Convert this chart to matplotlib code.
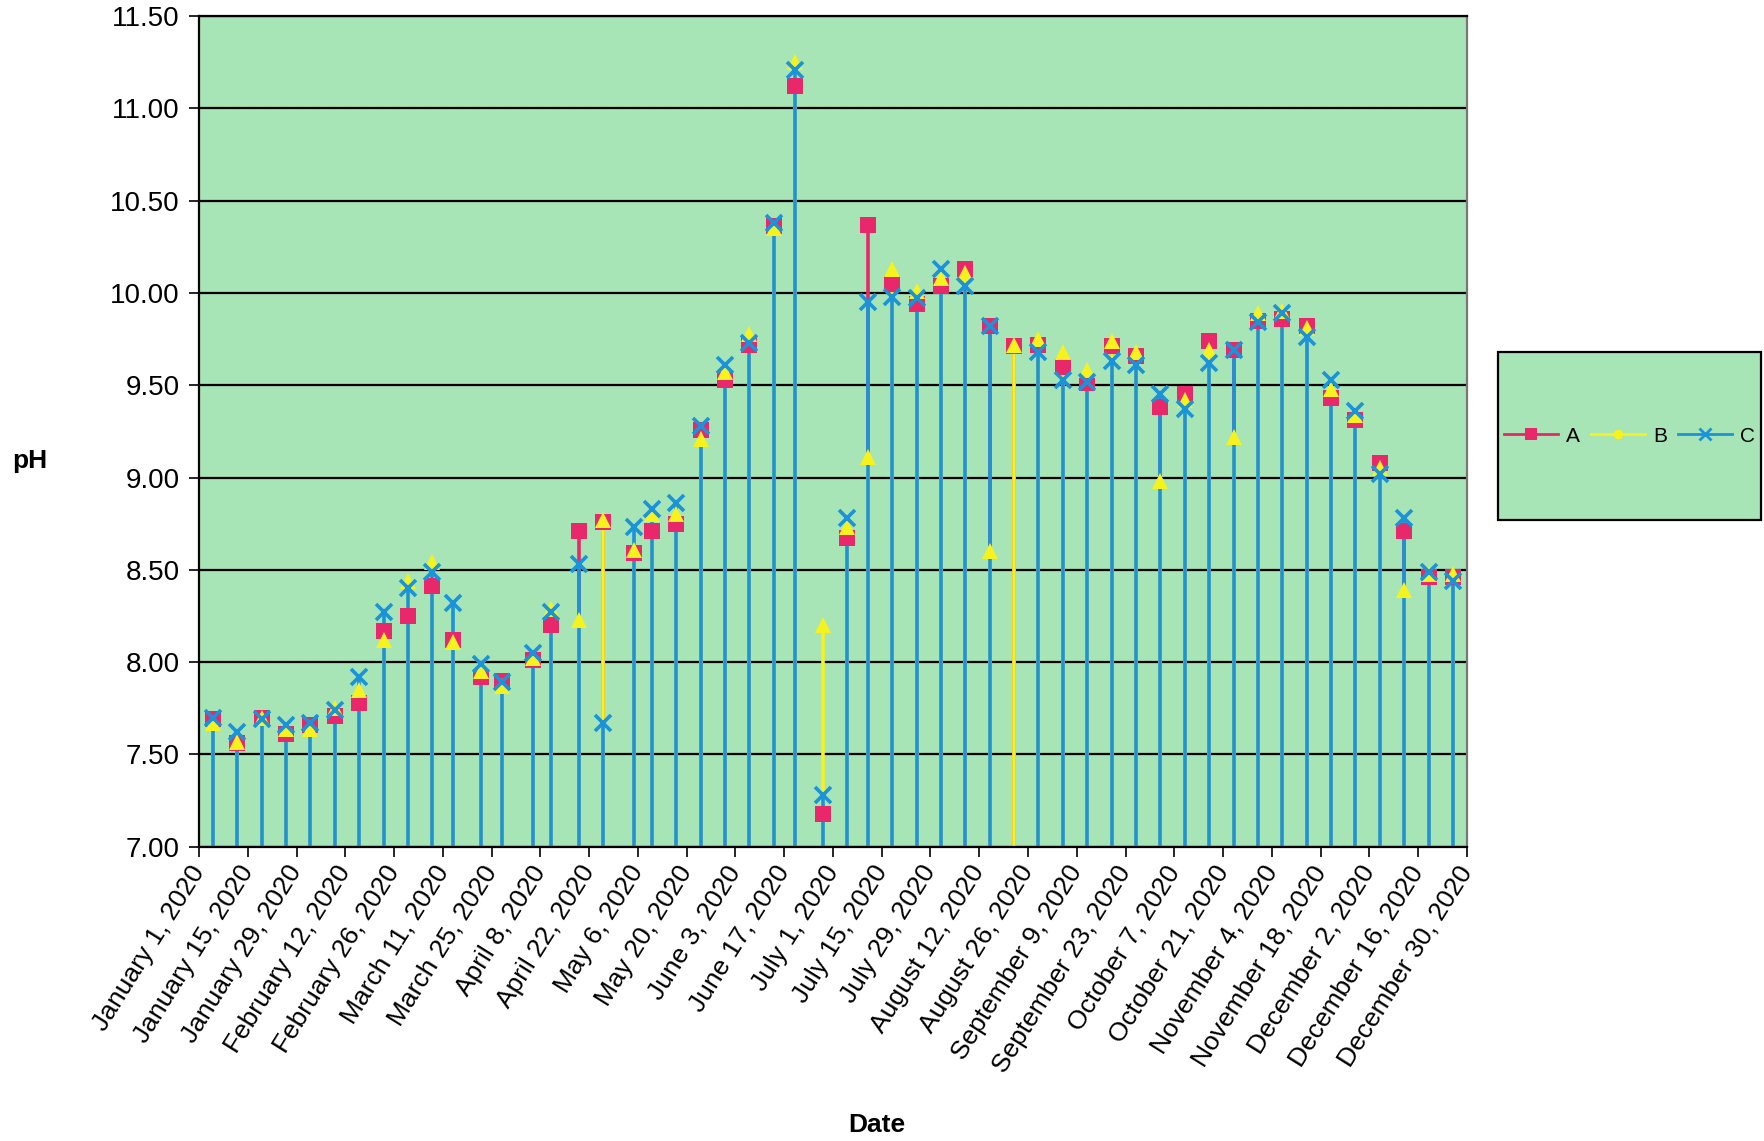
import numpy as np
import pandas as pd
import matplotlib
matplotlib.use("Agg")
import matplotlib.pyplot as plt
from matplotlib.lines import Line2D
from matplotlib.patches import Rectangle

plt.rcParams['font.family'] = ['Liberation Sans', 'DejaVu Sans']

dates = ["2020-01-05", "2020-01-12", "2020-01-19", "2020-01-26", "2020-02-02", "2020-02-09",
         "2020-02-16", "2020-02-23", "2020-03-01", "2020-03-08", "2020-03-14", "2020-03-22",
         "2020-03-28", "2020-04-06", "2020-04-11", "2020-04-19", "2020-04-26", "2020-05-05",
         "2020-05-10", "2020-05-17", "2020-05-24", "2020-05-31", "2020-06-07", "2020-06-14",
         "2020-06-20", "2020-06-28", "2020-07-05", "2020-07-11", "2020-07-18", "2020-07-25",
         "2020-08-01", "2020-08-08", "2020-08-15", "2020-08-22", "2020-08-29", "2020-09-05",
         "2020-09-12", "2020-09-19", "2020-09-26", "2020-10-03", "2020-10-10", "2020-10-17",
         "2020-10-24", "2020-10-31", "2020-11-07", "2020-11-14", "2020-11-21", "2020-11-28",
         "2020-12-05", "2020-12-12", "2020-12-19", "2020-12-26"]

series_A = [7.69, 7.56, 7.70, 7.61, 7.66, 7.71, 7.78, 8.17, 8.25, 8.41, 8.12, 7.92, 7.90,
            8.01, 8.20, 8.71, 8.76, 8.59, 8.71, 8.75, 9.26, 9.53, 9.72, 10.36, 11.12, 7.18,
            8.67, 10.37, 10.05, 9.94, 10.04, 10.13, 9.82, 9.71, 9.72, 9.60, 9.51, 9.71, 9.66,
            9.38, 9.45, 9.74, 9.69, 9.85, 9.86, 9.82, 9.43, 9.31, 9.08, 8.71, 8.46, 8.46]
series_B = [7.67, 7.57, 7.70, 7.64, 7.64, 7.75, 7.85, 8.12, 8.44, 8.54, 8.11, 7.95, 7.87,
            8.02, 8.29, 8.23, 8.77, 8.61, 8.80, 8.80, 9.21, 9.57, 9.78, 10.35, 11.25, 8.20,
            8.73, 9.11, 10.13, 10.01, 10.08, 10.11, 8.60, 9.72, 9.75, 9.68, 9.58, 9.74, 9.68,
            8.98, 9.42, 9.69, 9.22, 9.89, 9.90, 9.81, 9.48, 9.34, 9.05, 8.39, 8.48, 8.48]
series_C = [7.70, 7.62, 7.69, 7.66, 7.67, 7.74, 7.92, 8.27, 8.40, 8.49, 8.32, 7.99, 7.89,
            8.05, 8.27, 8.53, 7.67, 8.73, 8.83, 8.86, 9.28, 9.61, 9.73, 10.38, 11.21, 7.28,
            8.78, 9.95, 9.98, 9.97, 10.13, 10.04, 9.82, np.nan, 9.68, 9.53, 9.52, 9.63, 9.61,
            9.45, 9.37, 9.62, 9.69, 9.84, 9.89, 9.76, 9.53, 9.36, 9.02, 8.78, 8.49, 8.44]

series_names = ["A", "B", "C"]
y_ticks = [7.00, 7.50, 8.00, 8.50, 9.00, 9.50, 10.00, 10.50, 11.00, 11.50]

colors = {"A": "#E8286A", "B": "#F5F21E", "C": "#1B93D8"}
markers = {"A": "s", "B": "^", "C": "x"}
bg = "#A7E4B6"

x = pd.to_datetime(dates)
data = {"A": np.array(series_A), "B": np.array(series_B), "C": np.array(series_C)}

fig = plt.figure(figsize=(17.64, 11.41), dpi=100)
ax = fig.add_axes([0.1128, 0.2579, 0.7188, 0.7281])
ax.set_facecolor(bg)

ymin = 7.0
for i, name in enumerate(series_names):
    vals = data[name]
    ok = ~np.isnan(vals)
    ax.vlines(x[ok], ymin, vals[ok], color=colors[name], lw=2.6, zorder=2 + i * 0.1)
for i, name in enumerate(series_names):
    vals = data[name]
    if name == "C":
        ax.plot(x, vals, ls='none', marker='x', ms=11, mew=2.6, color=colors[name], zorder=3.2)
    else:
        ax.plot(x, vals, ls='none', marker=markers[name], ms=11, mew=0,
                color=colors[name], zorder=3 + i * 0.1)

ax.set_ylim(7.0, 11.5)
ax.set_yticks(y_ticks)
ax.set_yticklabels([f"{v:.2f}" for v in y_ticks], fontsize=20)
ax.yaxis.grid(True, color='black', lw=1.6, zorder=1)
ax.set_axisbelow(True)

tick_dates = pd.date_range("2020-01-01", "2020-12-30", freq="14D")
ax.set_xlim(pd.Timestamp("2020-01-01"), pd.Timestamp("2020-12-30"))
ax.set_xticks(tick_dates)
ax.set_xticklabels([f"{d:%B} {d.day}, {d.year}" for d in tick_dates], rotation=58,
                   ha='right', va='center', rotation_mode='anchor', fontsize=19)
ax.tick_params(axis='both', direction='out', length=7, width=1.2, color='black')
ax.tick_params(axis='x', pad=8)
ax.tick_params(axis='y', pad=7)

for s in ['left', 'bottom', 'top']:
    ax.spines[s].set_color('black')
    ax.spines[s].set_linewidth(1.6)
ax.spines['right'].set_color('#777777')
ax.spines['right'].set_linewidth(1.6)

fig.text(30 / 1764, 1 - 461 / 1141, "pH", fontsize=19, fontweight='bold', ha='center', va='center')
fig.text(877 / 1764, 1 - 1125 / 1141, "Date", fontsize=19, fontweight='bold', ha='center', va='center')

# legend box
lx0, ly0, lx1, ly1 = 1498 / 1764, 1 - 520 / 1141, 1761 / 1764, 1 - 352 / 1141
rect = Rectangle((lx0, ly0), lx1 - lx0, ly1 - ly0, transform=fig.transFigure,
                 facecolor=bg, edgecolor='black', lw=1.6)
fig.patches.append(rect)
handles = [
    Line2D([], [], color=colors["A"], lw=2.0, marker='s', ms=8, mew=0),
    Line2D([], [], color=colors["B"], lw=2.0, marker='o', ms=7, mew=0),
    Line2D([], [], color=colors["C"], lw=2.0, marker='x', ms=8, mew=2),
]
fig.legend(handles, series_names, loc='center', bbox_to_anchor=((lx0 + lx1) / 2, (ly0 + ly1) / 2),
           ncol=3, frameon=False, fontsize=15, handlelength=2.6, handletextpad=0.4,
           columnspacing=0.5, borderaxespad=0, borderpad=0)

fig.savefig("out.png", dpi=100, facecolor='white')
